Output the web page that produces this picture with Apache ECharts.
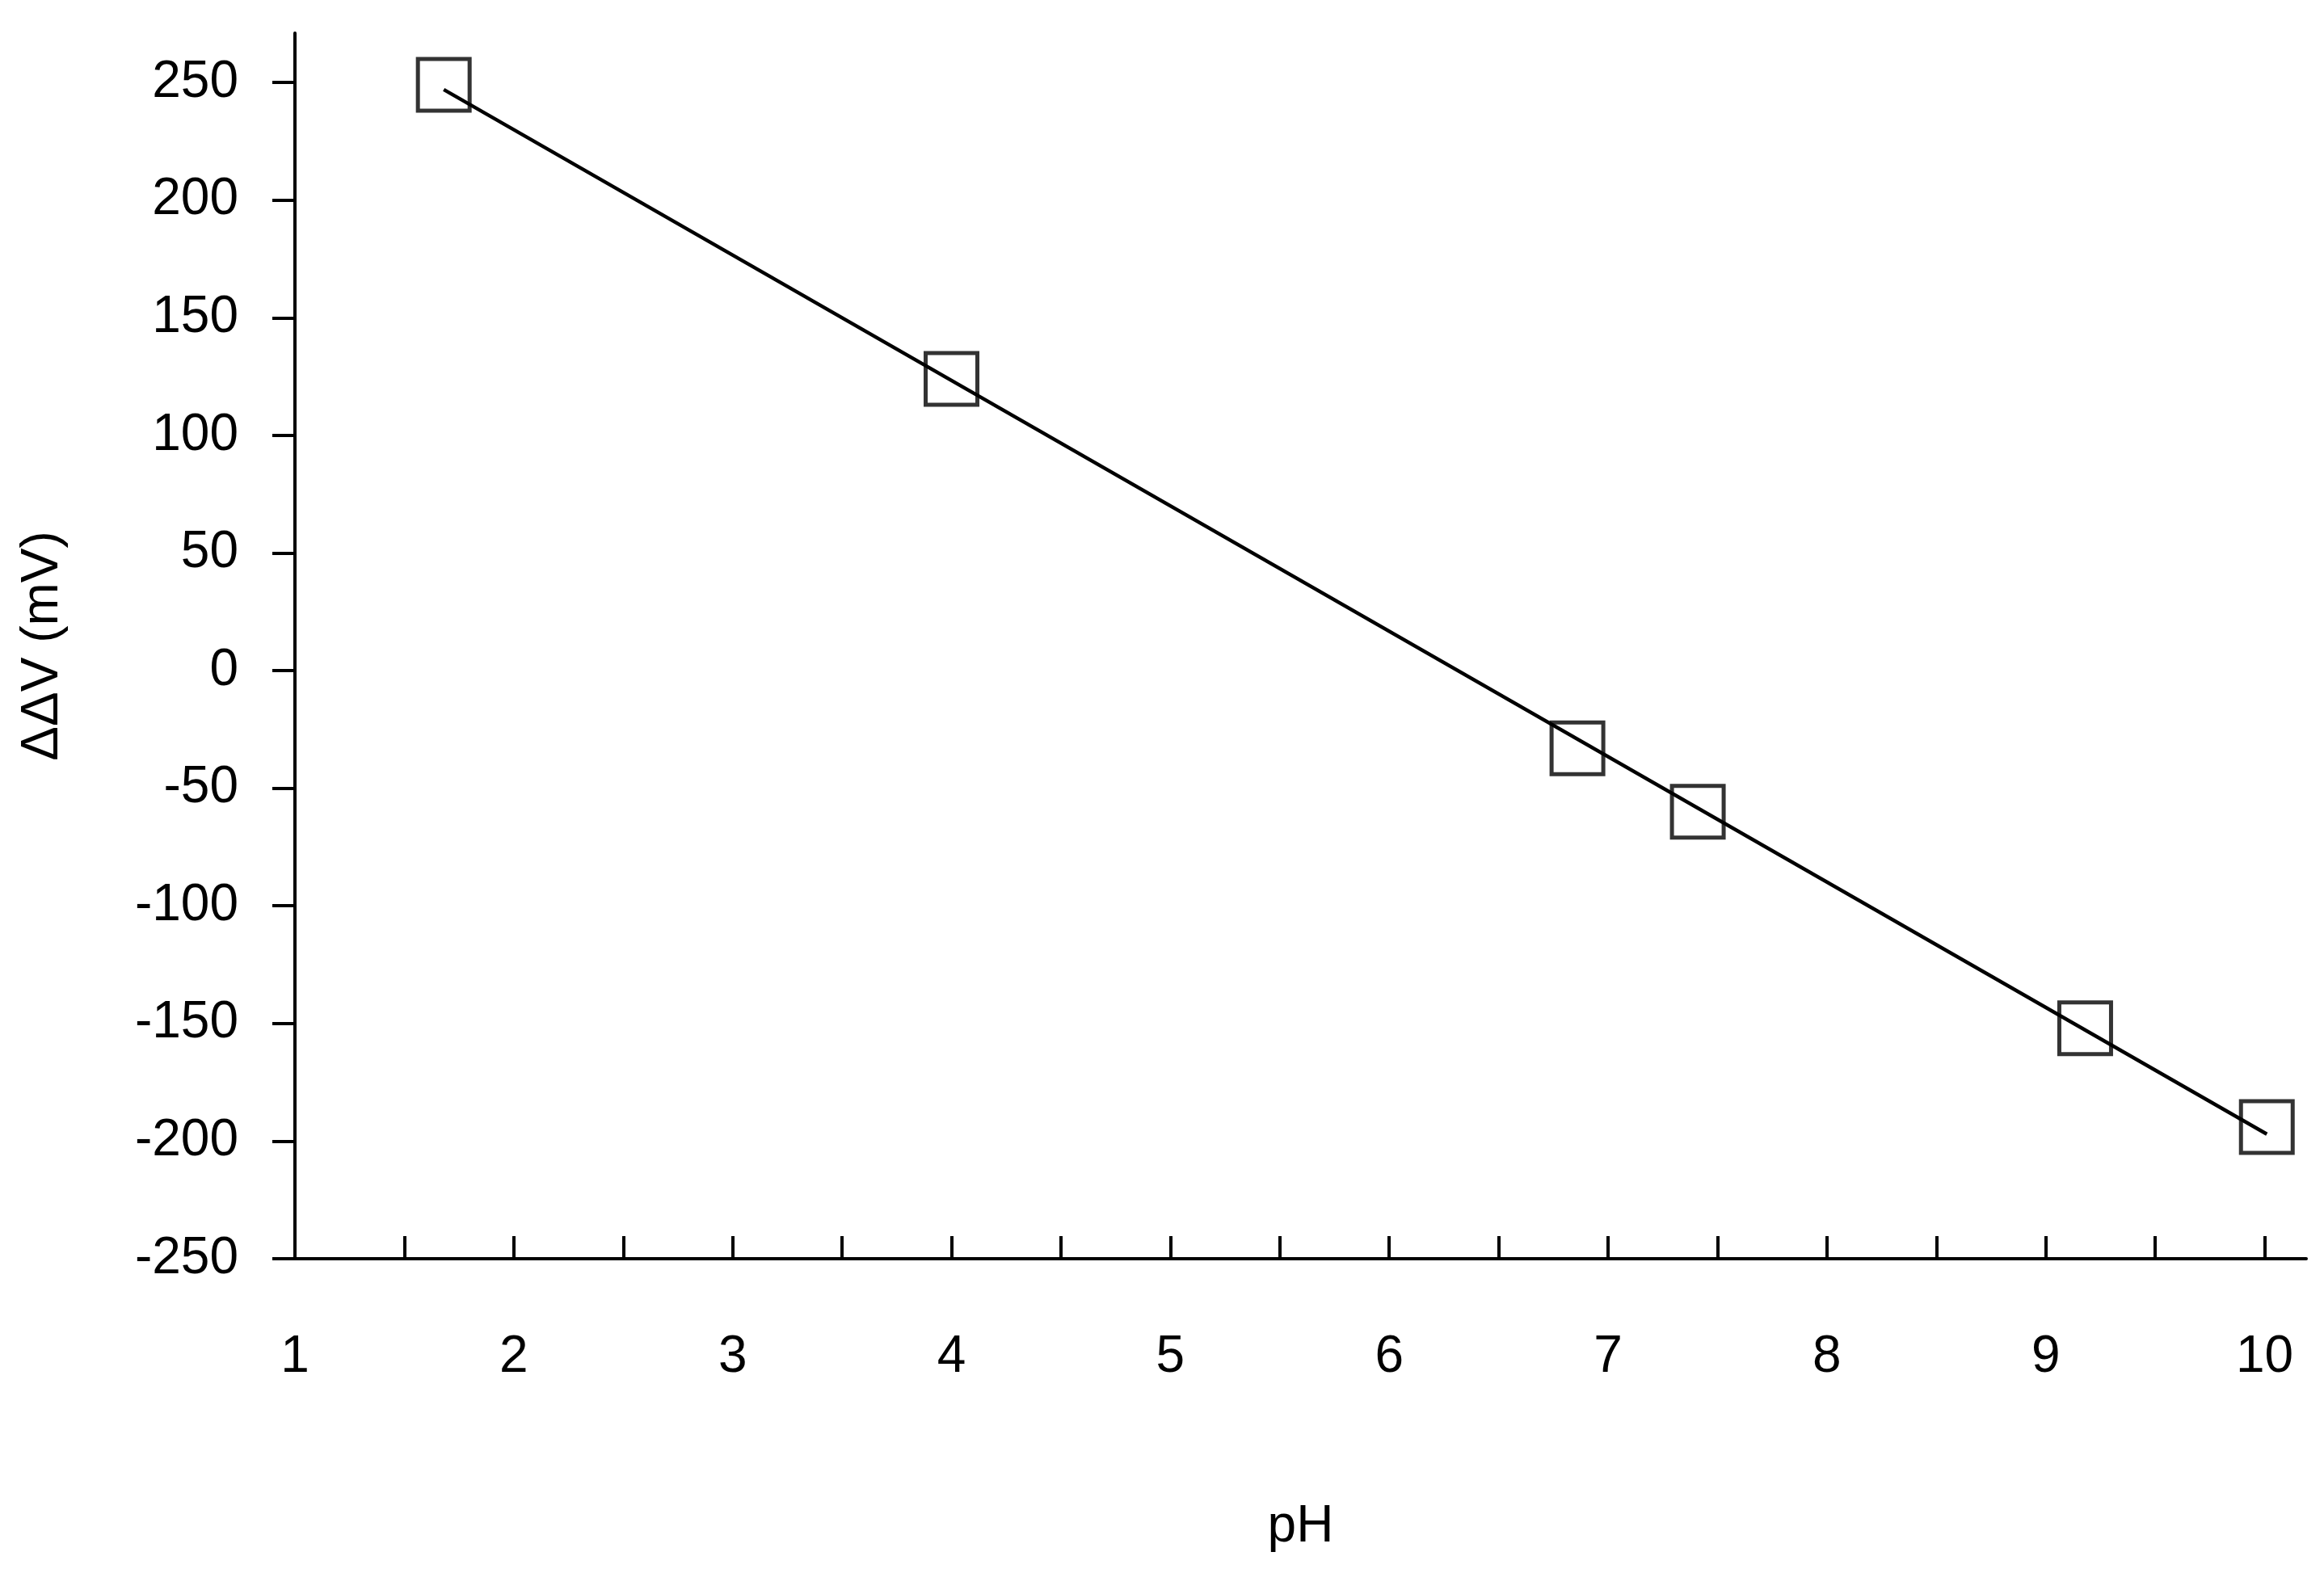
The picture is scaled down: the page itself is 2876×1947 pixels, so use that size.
<!DOCTYPE html>
<html>
<head>
<meta charset="utf-8">
<script src="https://cdn.jsdelivr.net/npm/echarts@6/dist/echarts.min.js"></script>
<style>html,body{margin:0;background:#fff}#chart{width:2876px;height:1947px}</style>
</head>
<body>
<div id="chart"></div>
<script>
// measured points
var phValues = [1.68, 4.00, 6.86, 7.41, 9.18, 10.01];
var dVValues = [249, 124, -33, -60, -152, -194];
// linear fit end points
var fitX = [1.68, 10.01];
var fitY = [247, -197];
var xTicks = [1, 2, 3, 4, 5, 6, 7, 8, 9, 10];
var xMinor = [1.5, 2.5, 3.5, 4.5, 5.5, 6.5, 7.5, 8.5, 9.5];
var yTicks = [-250, -200, -150, -100, -50, 0, 50, 100, 150, 200, 250];

var chart = echarts.init(document.getElementById('chart'));
var font = 'Liberation Sans';
chart.setOption({
  animation: false,
  grid: {left: 365, right: 22, top: 41, bottom: 389},
  xAxis: {
    type: 'value', min: 1, max: 10.19,
    name: 'pH', nameLocation: 'middle', nameGap: 300,
    nameTextStyle: {fontFamily: font, fontSize: 64, color: '#000'},
    axisLine: {onZero: false, lineStyle: {color: '#000', width: 4}},
    axisTick: {show: true, inside: true, length: 28, customValues: xTicks.concat(xMinor), lineStyle: {color: '#000', width: 4}},
    axisLabel: {customValues: xTicks, fontFamily: font, fontSize: 64, color: '#000', margin: 90},
    splitLine: {show: false}
  },
  yAxis: {
    type: 'value', min: -250, max: 271,
    name: 'ΔΔV (mV)', nameLocation: 'middle', nameGap: 280,
    nameTextStyle: {fontFamily: font, fontSize: 64, color: '#000'},
    axisLine: {show: true, onZero: false, lineStyle: {color: '#000', width: 4}},
    axisTick: {show: true, length: 28, customValues: yTicks, lineStyle: {color: '#000', width: 4}},
    axisLabel: {customValues: yTicks, fontFamily: font, fontSize: 64, color: '#000', margin: 70},
    splitLine: {show: false}
  },
  series: [
    {
      type: 'line', symbol: 'none',
      data: fitX.map(function (x, i) { return [x, fitY[i]]; }),
      lineStyle: {color: '#000', width: 4.5}
    },
    {
      type: 'scatter', symbol: 'rect', symbolSize: 64,
      data: phValues.map(function (x, i) { return [x, dVValues[i]]; }),
      itemStyle: {color: 'rgba(0,0,0,0)', borderColor: '#000', borderWidth: 5}
    }
  ]
});
</script>
</body>
</html>
